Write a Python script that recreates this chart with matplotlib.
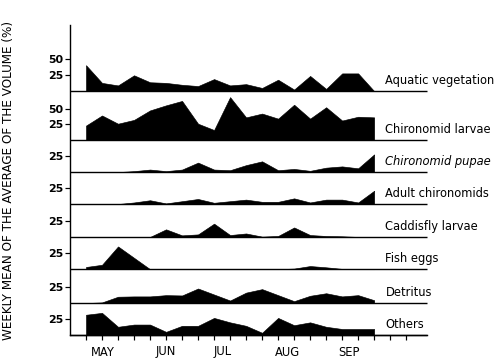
import numpy as np
import matplotlib
matplotlib.use('Agg')
from matplotlib import pyplot as plt
from matplotlib import transforms


# weeks from early May to mid September
weeks = np.arange(19)

# weekly mean of average volume (%) per food item
aquatic_vegetation = [41, 13, 9, 25, 14, 13, 10, 8, 19, 9, 11, 5, 18, 2.5, 24, 3.5, 28, 28, 0]
chironomid_larvae = [23, 39, 26, 32, 47, 55, 62, 26, 16, 68, 36, 42, 34, 56, 34, 52, 31, 37, 36]
chironomid_pupae = [0, 0, 0, 1.5, 4, 1.5, 4, 15, 4, 3, 11, 17, 3, 5, 2, 7, 9, 6, 28]
adult_chironomids = [0, 0, 0, 2.5, 6, 1, 4.5, 8, 2, 4.5, 7, 3.5, 3.5, 9, 2.5, 7, 7, 2.5, 21]
caddisfly_larvae = [0, 0, 0, 0, 0, 12, 2.5, 4, 21, 3, 5.5, 0.5, 1.5, 15, 3, 1.5, 1, 0, 0]
fish_eggs = [3.5, 7, 36, 18, 0, 0, 0, 0, 0, 0, 0, 0, 0, 1, 5, 3, 0.5, 0, 0]
detritus = [0, 1, 10, 10.5, 10.5, 12.5, 12, 23, 13.5, 4, 16.5, 22, 12.5, 3, 11.5, 15.5, 10.5, 12.5, 4.5]
others = [32, 35, 13, 16.5, 16.5, 5, 14.5, 14.5, 27, 20, 14.5, 3.5, 27, 15.5, 20, 13, 9.5, 9.5, 9.5]

series = [aquatic_vegetation, chironomid_larvae, chironomid_pupae, adult_chironomids,
          caddisfly_larvae, fish_eggs, detritus, others]
names = ['Aquatic vegetation', 'Chironomid larvae', 'Chironomid pupae', 'Adult chironomids',
         'Caddisfly larvae', 'Fish eggs', 'Detritus', 'Others']
yticks_per_panel = [[25, 50], [25, 50], [25], [25], [25], [25], [25], [25]]

months = ['MAY', 'JUN', 'JUL', 'AUG', 'SEP']
month_pos = [1.06, 5.0, 8.56, 12.56, 16.4]

# vertical offset (in %) of each panel's baseline
offsets = [385.5, 308, 257.5, 207, 155, 104, 50.5, 0]

fig = plt.figure(figsize=(7, 5), dpi=72)
ax = fig.add_axes([70/504, 1 - 335/360, 357/504, 310/360])
ax.set_xlim(-1.0, 21.3)
ax.set_ylim(0, 490)

tick_pos, tick_lab = [], []
for vals, name, off, yt in zip(series, names, offsets, yticks_per_panel):
    vals = np.array(vals, dtype=float)
    ax.fill_between(weeks, off, off + vals, color='black', lw=0.6)
    ax.hlines(off, -1.0, 21.3, color='black', lw=1.4, clip_on=False)
    style = 'italic' if name == 'Chironomid pupae' else 'normal'
    ax.text(18.7, off + 17, name, fontsize=11.5, va='center', ha='left',
            style=style, clip_on=False)
    for t in yt:
        tick_pos.append(off + t)
        tick_lab.append(str(t))

ax.set_yticks(tick_pos)
ax.set_yticklabels(tick_lab, fontsize=11, fontweight='bold')
ax.tick_params(axis='y', direction='out', length=5, width=1.2, pad=2)

ax.set_xticks(np.arange(21))
ax.set_xticklabels([])
ax.tick_params(axis='x', which='major', direction='out', length=5, width=1.2)

# month names sit between the week ticks
trans = transforms.blended_transform_factory(ax.transData, ax.transAxes)
for m, p in zip(months, month_pos):
    ax.text(p, -17/310, m, transform=trans, fontsize=11.5, ha='center', va='center')

for s in ['top', 'right']:
    ax.spines[s].set_visible(False)
ax.spines['left'].set_linewidth(1.4)
ax.spines['bottom'].set_linewidth(1.4)

fig.text(0.017, 0.5, 'WEEKLY MEAN OF THE AVERAGE OF THE VOLUME (%)',
         rotation=90, va='center', ha='center', fontsize=12)

fig.savefig('out.png', dpi=72)
